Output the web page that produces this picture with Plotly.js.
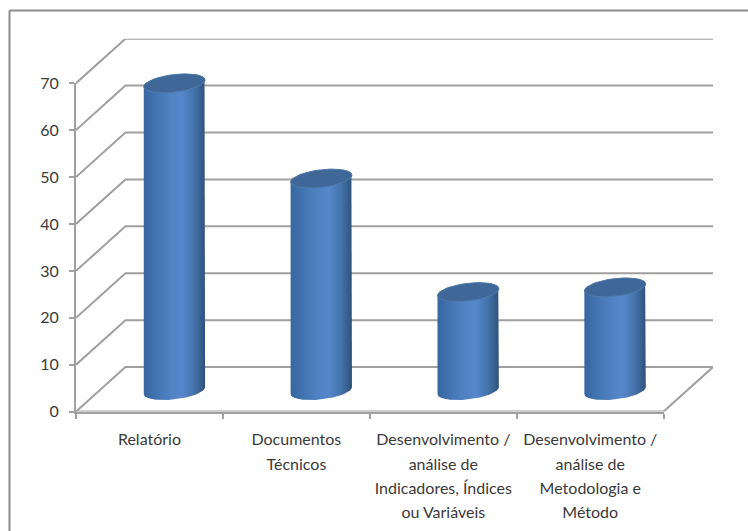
<!DOCTYPE html>
<html>
<head>
<meta charset="utf-8">
<script src="https://cdn.plot.ly/plotly-3.0.1.min.js"></script>
<style>html,body{margin:0;padding:0;background:#fff;overflow:hidden}</style>
</head>
<body>
<div id="chart" style="width:748px;height:531px"></div>
<script>
// Series
const categoryLines = [
  ["Relatório"],
  ["Documentos", "Técnicos"],
  ["Desenvolvimento /", "análise de", "Indicadores, Índices", "ou Variáveis"],
  ["Desenvolvimento /", "análise de", "Metodologia e", "Método"]
];
const values = [65.5, 45.2, 21, 22];
const yTicks = [0, 10, 20, 30, 40, 50, 60, 70];

// Oblique projection of the chart box, in axis units
const W = 748, H = 531;
const pxX = 147, pxY = 4.69;
const depthX = 49.5 / pxX, depthY = 44.5 / pxY;
const midX = 25 / pxX, midY = 21 / pxY;
const radiusX = 30.7 / pxX, radiusY = 8.8 / pxY, tilt = 3.4 / pxY;

const gridColor = "#a0a0a0";
const textColor = "#3a3a3a";
const fontFamily = "Lato, 'Liberation Sans', sans-serif";
const labelSize = 16;
const font = {family: fontFamily, size: labelSize, color: textColor};

// Axis font is sized for the wrapped-label line pitch; the glyphs themselves stay at labelSize
const categories = categoryLines.map(lines =>
  lines.map(l => `<span style="font-size:${labelSize}px">${l}</span>`).join("<br>"));

const traces = [];

// Placeholder trace so the category axis draws its ticks and labels
traces.push({type: "scatter", mode: "none", x: categories, y: values, xaxis: "x", yaxis: "y", hoverinfo: "skip", showlegend: false});

// Side wall and floor lines
const gx = [], gy = [];
yTicks.forEach(v => {
  gx.push(-0.5, -0.5 + depthX, 3.5 + depthX, null);
  gy.push(v, v + depthY, v + depthY, null);
});
gx.push(3.5, 3.5 + depthX, null, -0.5, 3.5);
gy.push(0, depthY, null, 0, 0);
traces.push({type: "scatter", mode: "lines", x: gx, y: gy, xaxis: "x2", yaxis: "y2",
  line: {color: gridColor, width: 2}, hoverinfo: "skip", showlegend: false, connectgaps: false});

// Elliptical arc of a cylinder section, tilted by the projection
function arc(cx, cy, from, to) {
  const xs = [], ys = [];
  for (let i = 0; i <= 48; i++) {
    const t = from + (to - from) * i / 48;
    xs.push(cx + radiusX * Math.cos(t));
    ys.push(cy + tilt * Math.cos(t) + radiusY * Math.sin(t));
  }
  return [xs, ys];
}

values.forEach((v, i) => {
  const cx = i + midX, y0 = midY, y1 = midY + v;
  const [bx, by] = arc(cx, y0, Math.PI, 2 * Math.PI);
  const [tx, ty] = arc(cx, y1, 0, Math.PI);
  traces.push({type: "scatter", mode: "lines", x: bx.concat(tx), y: by.concat(ty),
    xaxis: "x2", yaxis: "y2", fill: "toself", line: {width: 0}, hoverinfo: "skip", showlegend: false,
    fillgradient: {type: "horizontal", start: cx - radiusX, stop: cx + radiusX,
      colorscale: [[0, "#37669f"], [0.15, "#4071ae"], [0.45, "#5082c4"], [0.62, "#5687cb"], [0.8, "#4675ae"], [0.93, "#37608f"], [1, "#2e5079"]]}});
  const [cxs, cys] = arc(cx, y1, 0, 2 * Math.PI);
  traces.push({type: "scatter", mode: "lines", x: cxs, y: cys, xaxis: "x2", yaxis: "y2",
    fill: "toself", fillcolor: "#3f6797", line: {color: "#4f7aaa", width: 1}, hoverinfo: "skip", showlegend: false});
});

const axisLine = {showline: true, linecolor: gridColor, linewidth: 2, ticks: "outside", tickcolor: gridColor, tickwidth: 2, ticklen: 5, showgrid: false, zeroline: false};

const layout = {
  width: W, height: H,
  margin: {l: 0, r: 0, t: 0, b: 0},
  paper_bgcolor: "#fff", plot_bgcolor: "rgba(0,0,0,0)",
  showlegend: false, font,
  xaxis: Object.assign({}, axisLine, {type: "category", domain: [76 / W, 663.7 / W], range: [-0.5, 3.5],
    categoryorder: "array", categoryarray: categories, tickson: "boundaries", tickangle: 0, anchor: "y", fixedrange: true,
    tickfont: {family: fontFamily, size: 18.8, color: textColor}, ticklabelstandoff: 9}),
  yaxis: Object.assign({}, axisLine, {domain: [(H - 411.6) / H, (H - 83.3) / H], range: [0, 70], tickvals: yTicks, anchor: "x", fixedrange: true, tickfont: font, ticklabelstandoff: 7}),
  xaxis2: {domain: [76 / W, 713 / W], range: [-0.5, 3.5 + depthX], visible: false, anchor: "y2", fixedrange: true},
  yaxis2: {domain: [(H - 411.6) / H, (H - 38.7) / H], range: [0, 70 + depthY], visible: false, anchor: "x2", fixedrange: true},
  shapes: [
    // Chart frame: only its top and left edges fall inside the page
    {type: "line", xref: "paper", yref: "paper", x0: 9.5 / W, x1: 1, y0: 1 - 10.5 / H, y1: 1 - 10.5 / H, line: {color: "#8c8c8c", width: 2}},
    {type: "line", xref: "paper", yref: "paper", x0: 9.5 / W, x1: 9.5 / W, y0: 0, y1: 1 - 10.5 / H, line: {color: "#8c8c8c", width: 2}}
  ]
};

Plotly.newPlot("chart", traces, layout, {displayModeBar: false, staticPlot: true});
</script>
</body>
</html>
